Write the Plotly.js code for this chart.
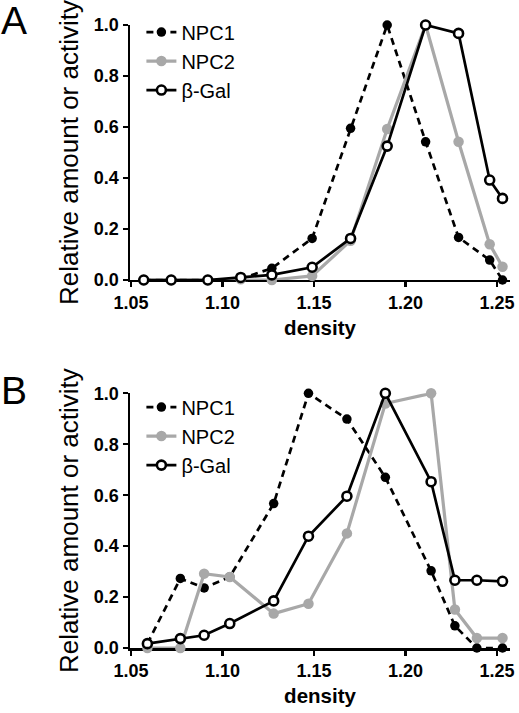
<!DOCTYPE html>
<html>
<head>
<meta charset="utf-8">
<script src="https://cdn.plot.ly/plotly-3.0.1.min.js"></script>
<style>html,body{margin:0;padding:0;background:#fff;}#chart{width:519px;height:713px;}</style>
</head>
<body>
<div id="chart"></div>
<script>
// Panel A data
const densityA = [1.057, 1.072, 1.092, 1.110, 1.127, 1.149, 1.170, 1.190, 1.211, 1.229, 1.246, 1.253];
const npc1A    = [0, 0, 0, 0.005, 0.046, 0.163, 0.595, 1.0, 0.542, 0.167, 0.078, 0.0];
const npc2A    = [0, 0, 0, 0.003, 0.0, 0.016, 0.154, 0.592, 1.0, 0.542, 0.14, 0.052];
const bgalA    = [0, 0, 0, 0.01, 0.02, 0.05, 0.163, 0.525, 1.0, 0.967, 0.392, 0.32];
// Panel B data
const densityB = [1.059, 1.077, 1.090, 1.104, 1.128, 1.147, 1.168, 1.189, 1.214, 1.227, 1.239, 1.253];
const npc1B    = [0.017, 0.273, 0.236, 0.279, 0.567, 1.0, 0.899, 0.67, 0.303, 0.087, 0.0, 0.0];
const npc2B    = [0, 0, 0.292, 0.279, 0.135, 0.174, 0.45, 0.96, 1.0, 0.151, 0.039, 0.039];
const bgalB    = [0.017, 0.037, 0.05, 0.096, 0.185, 0.439, 0.596, 1.0, 0.653, 0.266, 0.266, 0.262];

const seriesNames = ['NPC1', 'NPC2', 'β-Gal'];
const panelLabels = ['A', 'B'];
const xTitle = 'density';
const yTitle = 'Relative amount or activity';

const FONT = 'Liberation Sans, Arial, sans-serif';
const GRAY = '#a8a8a8';

function traces(x, s1, s2, s3, xa, ya, lg) {
  return [
    {x: x, y: s1, name: seriesNames[0], xaxis: xa, yaxis: ya, legend: lg, mode: 'lines+markers', cliponaxis: false,
     line: {color: '#000', width: 2.7, dash: '7px,5px'}, marker: {color: '#000', size: 9.5}},
    {x: x, y: s2, name: seriesNames[1], xaxis: xa, yaxis: ya, legend: lg, mode: 'lines+markers', cliponaxis: false,
     line: {color: GRAY, width: 3.2}, marker: {color: GRAY, size: 10.5}},
    {x: x, y: s3, name: seriesNames[2], xaxis: xa, yaxis: ya, legend: lg, mode: 'lines+markers', cliponaxis: false,
     line: {color: '#000', width: 2.7}, marker: {color: '#fff', size: 9, line: {color: '#000', width: 2.6}}}
  ];
}

const data = traces(densityA, npc1A, npc2A, bgalA, 'x', 'y', 'legend')
  .concat(traces(densityB, npc1B, npc2B, bgalB, 'x2', 'y2', 'legend2'));

function xax(anchor) {
  return {anchor: anchor, domain: [0, 1], range: [1.0495, 1.2571], tick0: 1.05, dtick: 0.05, tickformat: '.2f',
    showgrid: false, zeroline: false, showline: true, linecolor: '#000', linewidth: 2.5,
    ticks: 'outside', ticklen: 5, tickwidth: 2.3, tickcolor: '#000', layer: 'below traces',
    tickfont: {family: FONT, size: 18, color: '#000', weight: 'bold'},
    title: {text: '<b>' + xTitle + '</b>', font: {family: FONT, size: 20.5, color: '#000'}, standoff: 9}};
}
function yax(anchor, dom) {
  return {anchor: anchor, domain: dom, range: [0, 1.0], tick0: 0, dtick: 0.2, tickformat: '.1f',
    showgrid: false, zeroline: false, showline: true, linecolor: '#000', linewidth: 2.5,
    ticks: 'outside', ticklen: 5, tickwidth: 2.3, tickcolor: '#000', layer: 'below traces',
    tickfont: {family: FONT, size: 18, color: '#000', weight: 'bold'},
    title: {text: yTitle, font: {family: FONT, size: 26, color: '#000'}, standoff: 8}};
}
function legendCfg(y) {
  return {x: 0.03, y: y, xanchor: 'left', yanchor: 'top', bgcolor: 'rgba(0,0,0,0)',
    font: {family: FONT, size: 20, color: '#000'}, tracegroupgap: 0, itemwidth: 30};
}

const layout = {
  width: 519, height: 713,
  margin: {l: 130, r: 9, t: 25, b: 65},
  paper_bgcolor: '#fff', plot_bgcolor: '#fff',
  showlegend: true,
  xaxis: xax('y'), yaxis: yax('x', [0.5907, 1]),
  xaxis2: xax('y2'), yaxis2: yax('x2', [0, 0.4088]),
  legend: legendCfg(1.02),
  legend2: legendCfg(0.418),
  annotations: [
    {text: panelLabels[0], xref: 'paper', yref: 'paper', x: -0.345, y: 1.008, xanchor: 'left', yanchor: 'middle',
     showarrow: false, font: {family: FONT, size: 39, color: '#000'}},
    {text: panelLabels[1], xref: 'paper', yref: 'paper', x: -0.345, y: 0.4137, xanchor: 'left', yanchor: 'middle',
     showarrow: false, font: {family: FONT, size: 39, color: '#000'}}
  ]
};

Plotly.newPlot('chart', data, layout, {staticPlot: true, displayModeBar: false});
</script>
</body>
</html>
